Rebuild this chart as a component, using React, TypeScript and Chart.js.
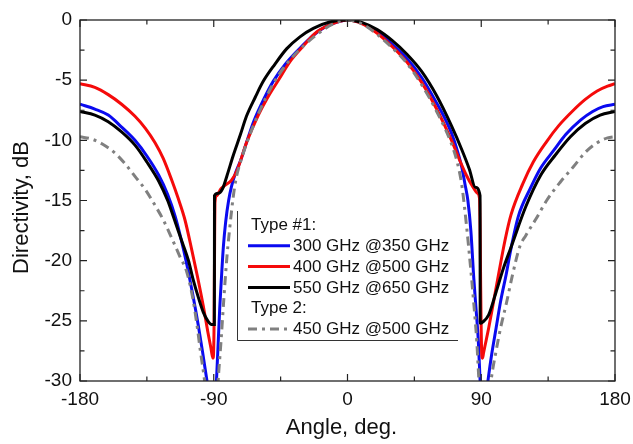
import React, { useEffect, useRef } from "react";
import { Chart, registerables } from "chart.js";

Chart.register(...registerables);

// ---- axis ticks ----
const xMajorTicks = [-180, -90, 0, 90, 180];
const xMinorTicks = [-135, -45, 45, 135];
const yMajorTicks = [0, -5, -10, -15, -20, -25, -30];
const yMinorTicks = [-2.5, -7.5, -12.5, -17.5, -22.5, -27.5];

const xTitle = "Angle, deg.";
const yTitle = "Directivity, dB";

// ---- series ----
const seriesNames = [
  "300 GHz @350 GHz",
  "400 GHz @500 GHz",
  "550 GHz @650 GHz",
  "450 GHz @500 GHz",
];
const groupHeaders = ["Type #1:", "Type 2:"];
const groupMembers = [[0, 1, 2], [3]];

const blueAngles = [-180, -170, -161, -152, -143, -135, -127, -121, -116, -112, -108, -104, -100.5, -97.5, -94.8, -92, -90, -89, -88, -87, -86, -85, -83.5, -82, -80, -78, -75, -72, -68, -63, -56, -50, -42, -34, -26, -18, -10, 0, 10, 20, 30, 40, 50, 60, 66, 70, 74, 77, 79, 81, 83, 85, 86.5, 88, 89.2, 90.2, 91.5, 93, 94.8, 97, 100, 103, 107, 110, 115, 123, 130, 139, 147, 157, 165, 172, 180];
const blueValues = [-7.0, -7.4, -7.9, -8.9, -10.0, -11.3, -12.9, -14.5, -16.3, -18.2, -20.4, -22.9, -25.3, -27.6, -29.8, -32, -33, -32, -29.5, -26.8, -24, -21.8, -18.8, -16.8, -15.0, -13.8, -12.6, -11.7, -10.2, -8.4, -6.5, -5.1, -3.7, -2.6, -1.6, -0.8, -0.3, 0, -0.28, -1.0, -2.0, -3.2, -4.8, -6.9, -8.3, -9.4, -10.9, -12.3, -13.6, -15, -17.5, -21.5, -24, -26.6, -29.9, -32.5, -33, -31.5, -29.7, -27.8, -25.6, -23.4, -21, -19, -16.3, -14, -12.3, -10.8, -9.5, -8.3, -7.6, -7.2, -7.0];

const redAngles = [-180, -170, -161, -152, -143, -136, -129.5, -124, -118.3, -114, -109.4, -104.8, -101, -97, -94, -92, -91, -90.5, -90.1, -89.8, -89.6, -89.4, -89.2, -88, -85, -82, -78, -74, -68, -60, -54, -46, -38.7, -30, -20.7, -10, 0, 10, 20, 30, 40, 50, 60, 70, 76, 80, 84, 87.5, 88.8, 89.2, 89.6, 90, 90.4, 90.9, 91.5, 95, 98, 102, 106, 110, 118, 125, 134, 142, 152, 160, 168, 175, 180];
const redValues = [-5.3, -5.6, -6.2, -7.0, -8.0, -9.0, -10.2, -11.5, -13.3, -14.8, -16.6, -19.1, -21.3, -23.8, -25.9, -27.2, -27.9, -28.1, -27.6, -25.5, -22, -18, -15.2, -14.6, -14.0, -13.7, -13.3, -12.4, -10.2, -7.9, -6.5, -4.9, -3.45, -2.2, -1.0, -0.3, 0, -0.32, -1.1, -2.2, -3.5, -5.2, -7.4, -10, -11.8, -12.9, -13.8, -14.4, -14.8, -17, -22, -26, -27.9, -28.1, -27.7, -25.6, -23.6, -20.9, -18.3, -16.2, -13.6, -11.8, -10.1, -8.8, -7.5, -6.6, -5.9, -5.5, -5.3];

const blackAngles = [-180, -170, -161, -152, -143, -135, -127, -121, -117, -112, -107, -103.8, -100, -97, -94, -91.5, -89.6, -89.5, -87, -84, -81, -77, -72, -68, -62, -56.7, -49, -41, -32, -23, -12, 0, 10, 20, 30, 40, 50, 60, 70, 77, 82, 86, 89.2, 89.3, 91, 95, 100, 105, 110, 120, 130, 140, 150, 160, 170, 180];
const blackValues = [-7.6, -7.9, -8.45, -9.3, -10.4, -11.8, -13.4, -15.0, -16.4, -18.2, -20.0, -21.6, -23.2, -24.3, -25.0, -25.3, -25.3, -14.6, -14.4, -14.0, -12.9, -11.3, -9.5, -8.0, -6.4, -5.1, -3.7, -2.4, -1.4, -0.7, -0.17, 0, -0.22, -0.8, -1.7, -2.85, -4.3, -6.3, -8.8, -10.8, -12.4, -13.9, -14.6, -25.2, -25.1, -24.5, -22.6, -20.6, -18.9, -15.5, -12.9, -11.2, -9.7, -8.6, -7.9, -7.6];

const grayAngles = [-180, -172, -165, -157, -150, -143, -136, -130, -124, -118, -113, -108, -104, -101, -99, -97, -95, -92, -90, -88, -86.5, -85, -83, -81, -79, -77, -75, -72, -68, -60, -50, -40, -30, -20, -10, 0, 10, 20, 30, 40, 50, 60, 70, 74, 77, 80, 83, 85, 87, 88, 89.5, 91.5, 94, 97, 100, 103, 107, 111, 116, 120, 127, 134, 143, 152, 160, 168, 175, 180];
const grayValues = [-9.7, -9.9, -10.3, -11.0, -11.9, -13.0, -14.1, -15.3, -16.6, -18.2, -19.6, -21.0, -23.2, -25.6, -27.5, -29.2, -31, -33, -33, -31.5, -29, -26.5, -22.8, -19.5, -17.0, -14.8, -13.2, -11.8, -10.3, -7.8, -5.3, -3.5, -2.2, -1.15, -0.35, 0, -0.35, -1.2, -2.3, -3.6, -5.4, -7.6, -10.3, -11.9, -13.8, -17, -20.8, -23.6, -26.7, -29, -32, -33.5, -32.5, -29.6, -27.5, -25.6, -23.5, -21.2, -18.8, -17.9, -16.5, -15, -13.5, -12.2, -11, -10.2, -9.8, -9.7];

const seriesAngles = [blueAngles, redAngles, blackAngles, grayAngles];
const seriesValues = [blueValues, redValues, blackValues, grayValues];
const seriesColors = ["#0a0af0", "#f50a0a", "#000000", "#808080"];
const seriesDashes: number[][] = [[], [], [], [9, 5, 3, 5]];
const seriesOrder = [4, 3, 2, 1];

const FONT = "'Liberation Sans', Arial, Helvetica, sans-serif";

const decorPlugin = {
  id: "decor",
  afterDraw(chart: any) {
    const { ctx, chartArea, scales } = chart;
    const xs = scales.x;
    const ys = scales.y;
    const { left, right, top, bottom } = chartArea;
    ctx.save();

    // legend box
    const lb = { left: 237, top: 211, right: 458, bottom: 340 };
    ctx.fillStyle = "#ffffff";
    ctx.fillRect(lb.left, lb.top, lb.right - lb.left, lb.bottom - lb.top);
    ctx.strokeStyle = "#333333";
    ctx.lineWidth = 1;
    ctx.setLineDash([]);
    ctx.beginPath();
    ctx.moveTo(lb.left + 0.5, lb.top);
    ctx.lineTo(lb.left + 0.5, lb.bottom + 0.5);
    ctx.lineTo(lb.right, lb.bottom + 0.5);
    ctx.stroke();

    ctx.font = `17px ${FONT}`;
    ctx.textBaseline = "middle";
    ctx.textAlign = "left";
    const rowH = 20.8;
    let ry = 225;
    groupHeaders.forEach((h, gi) => {
      ctx.fillStyle = "#111111";
      ctx.setLineDash([]);
      ctx.fillText(h, 251, ry);
      ry += rowH;
      groupMembers[gi].forEach((si) => {
        ctx.strokeStyle = seriesColors[si];
        ctx.lineWidth = 3;
        ctx.setLineDash(seriesDashes[si]);
        ctx.beginPath();
        ctx.moveTo(248, ry);
        ctx.lineTo(290, ry);
        ctx.stroke();
        ctx.setLineDash([]);
        ctx.fillStyle = "#111111";
        ctx.fillText(seriesNames[si], 293, ry + 0.5);
        ry += rowH;
      });
    });

    // frame
    ctx.setLineDash([]);
    ctx.strokeStyle = "#222222";
    ctx.lineWidth = 1.3;
    ctx.strokeRect(left, top, right - left, bottom - top);

    // ticks (inward, all four sides)
    const major = 7;
    const minor = 4.5;
    ctx.lineWidth = 1.2;
    ctx.beginPath();
    const xt = (v: number, len: number) => {
      const px = xs.getPixelForValue(v);
      ctx.moveTo(px, bottom);
      ctx.lineTo(px, bottom - len);
      ctx.moveTo(px, top);
      ctx.lineTo(px, top + len);
    };
    const yt = (v: number, len: number) => {
      const py = ys.getPixelForValue(v);
      ctx.moveTo(left, py);
      ctx.lineTo(left + len, py);
      ctx.moveTo(right, py);
      ctx.lineTo(right - len, py);
    };
    xMajorTicks.forEach((v) => xt(v, major));
    xMinorTicks.forEach((v) => xt(v, minor));
    yMajorTicks.forEach((v) => yt(v, major));
    yMinorTicks.forEach((v) => yt(v, minor));
    ctx.stroke();

    // axis titles
    ctx.fillStyle = "#111111";
    ctx.font = `22px ${FONT}`;
    ctx.textAlign = "center";
    ctx.textBaseline = "middle";
    ctx.fillText(xTitle, 341.5, 428);
    ctx.translate(22, 207.5);
    ctx.rotate(-Math.PI / 2);
    ctx.fillText(yTitle, 0, 0);

    ctx.restore();
  },
};

export default function App() {
  const ref = useRef<HTMLCanvasElement>(null);

  useEffect(() => {
    document.body.style.margin = "0";
    const canvas = ref.current;
    if (!canvas) return;

    const datasets = seriesNames.map((name, i) => ({
      label: name,
      data: seriesAngles[i].map((a, k) => ({ x: a, y: seriesValues[i][k] })),
      borderColor: seriesColors[i],
      backgroundColor: seriesColors[i],
      borderWidth: 3,
      borderDash: seriesDashes[i],
      pointRadius: 0,
      fill: false,
      cubicInterpolationMode: "monotone" as const,
      order: seriesOrder[i],
    }));

    const chart = new Chart(canvas, {
      type: "line",
      data: { datasets },
      options: {
        animation: false,
        responsive: true,
        maintainAspectRatio: false,
        layout: { padding: { top: 20, right: 18, left: 0, bottom: 0 } },
        plugins: {
          legend: { display: false },
          tooltip: { enabled: false },
        },
        scales: {
          x: {
            type: "linear",
            min: -180,
            max: 180,
            afterBuildTicks: (s: any) => {
              s.ticks = xMajorTicks.map((v) => ({ value: v }));
            },
            afterFit: (s: any) => {
              s.height = 63;
              s.paddingLeft = 0;
              s.paddingRight = 0;
            },
            ticks: {
              padding: 7,
              color: "#111111",
              font: { family: FONT, size: 19 },
              maxRotation: 0,
              autoSkip: false,
            },
            grid: { display: false, drawTicks: false },
            border: { display: false },
          },
          y: {
            type: "linear",
            min: -30,
            max: 0,
            afterBuildTicks: (s: any) => {
              s.ticks = yMajorTicks.map((v) => ({ value: v }));
            },
            afterFit: (s: any) => {
              s.width = 80;
              s.paddingTop = 0;
              s.paddingBottom = 0;
            },
            ticks: {
              padding: 8,
              color: "#111111",
              font: { family: FONT, size: 19 },
              autoSkip: false,
            },
            grid: { display: false, drawTicks: false },
            border: { display: false },
          },
        },
      },
      plugins: [decorPlugin],
    });

    return () => chart.destroy();
  }, []);

  return (
    <div style={{ position: "absolute", left: 0, top: 0, width: 633, height: 444, background: "#ffffff" }}>
      <canvas ref={ref} />
    </div>
  );
}
